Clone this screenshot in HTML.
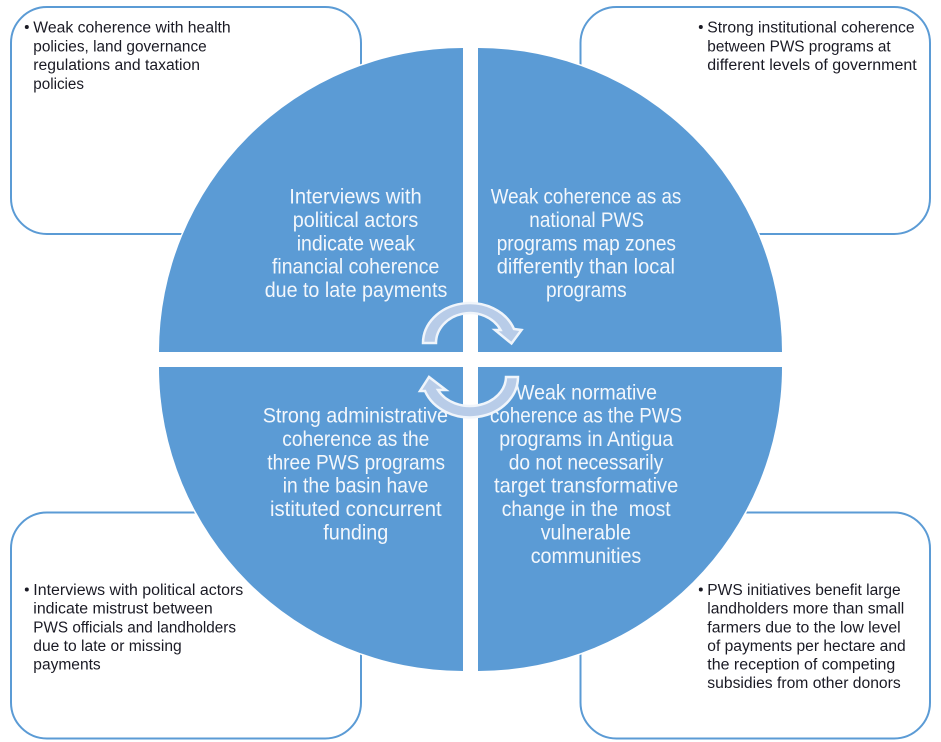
<!DOCTYPE html>
<html><head><meta charset="utf-8"><title>PWS coherence diagram</title>
<style>html,body{margin:0;padding:0;background:#fff}svg{display:block}
.b{font:15.5px "Liberation Sans",sans-serif;fill:#1a1a24}
.m{font:21px "Liberation Sans",sans-serif;fill:#f3f7fc}
</style></head><body>
<svg width="941" height="742" viewBox="0 0 941 742" xmlns="http://www.w3.org/2000/svg">
<g fill="#fff" stroke="#5b9bd5" stroke-width="2">
<rect x="11" y="7" width="350" height="227" rx="36"/>
<rect x="580.500" y="7" width="349.500" height="227" rx="36"/>
<rect x="11" y="512.500" width="350" height="226" rx="36"/>
<rect x="580.500" y="512.500" width="349.500" height="226" rx="36"/>
</g>
<g fill="#5b9bd5" stroke="#fff" stroke-width="3" paint-order="stroke">
<path d="M463 352V48A304 304 0 0 0 159 352Z"/>
<path d="M478 352V48A304 304 0 0 1 782 352Z"/>
<path d="M463 367V671A304 304 0 0 1 159 367Z"/>
<path d="M478 367V671A304 304 0 0 0 782 367Z"/>
</g>
<text class="m" x="289.300" y="203.500" textLength="132.400" lengthAdjust="spacingAndGlyphs">Interviews with</text>
<text class="m" x="292.700" y="227" textLength="125.600" lengthAdjust="spacingAndGlyphs">political actors</text>
<text class="m" x="296.700" y="250.300" textLength="118.300" lengthAdjust="spacingAndGlyphs">indicate weak</text>
<text class="m" x="272" y="273.700" textLength="167.300" lengthAdjust="spacingAndGlyphs">financial coherence</text>
<text class="m" x="264.700" y="297" textLength="182.600" lengthAdjust="spacingAndGlyphs">due to late payments</text>

<text class="m" x="490.700" y="203.500" textLength="190.600" lengthAdjust="spacingAndGlyphs">Weak coherence as as</text>
<text class="m" x="529.300" y="227" textLength="114.700" lengthAdjust="spacingAndGlyphs">national PWS</text>
<text class="m" x="496.700" y="250.300" textLength="179.300" lengthAdjust="spacingAndGlyphs">programs map zones</text>
<text class="m" x="496.700" y="273.700" textLength="178.300" lengthAdjust="spacingAndGlyphs">differently than local</text>
<text class="m" x="546" y="297" textLength="80.700" lengthAdjust="spacingAndGlyphs">programs</text>

<text class="m" x="262.700" y="422.700" textLength="185.300" lengthAdjust="spacingAndGlyphs">Strong administrative</text>
<text class="m" x="282.300" y="446" textLength="147" lengthAdjust="spacingAndGlyphs">coherence as the</text>
<text class="m" x="267.300" y="469.500" textLength="177.700" lengthAdjust="spacingAndGlyphs">three PWS programs</text>
<text class="m" x="282.700" y="492.700" textLength="145.600" lengthAdjust="spacingAndGlyphs">in the basin have</text>
<text class="m" x="270" y="516" textLength="171.700" lengthAdjust="spacingAndGlyphs">istituted concurrent</text>
<text class="m" x="323.300" y="539.500" textLength="65" lengthAdjust="spacingAndGlyphs">funding</text>

<text class="m" x="516" y="399.500" textLength="141" lengthAdjust="spacingAndGlyphs">Weak normative</text>
<text class="m" x="490" y="422.700" textLength="192" lengthAdjust="spacingAndGlyphs">coherence as the PWS</text>
<text class="m" x="499.300" y="446" textLength="174" lengthAdjust="spacingAndGlyphs">programs in Antigua</text>
<text class="m" x="508.700" y="469.500" textLength="154.600" lengthAdjust="spacingAndGlyphs">do not necessarily</text>
<text class="m" x="494" y="492.700" textLength="184.300" lengthAdjust="spacingAndGlyphs">target transformative</text>
<text class="m" x="501.700" y="516" textLength="169" lengthAdjust="spacingAndGlyphs" xml:space="preserve">change in the  most</text>
<text class="m" x="540.700" y="539.500" textLength="90.300" lengthAdjust="spacingAndGlyphs">vulnerable</text>
<text class="m" x="530.700" y="562.800" textLength="110.600" lengthAdjust="spacingAndGlyphs">communities</text>

<g fill="#b8cce8" stroke="#f0f5fb" stroke-width="2.500" stroke-linejoin="miter">
<path d="M423 343A47 40 0 0 1 514 329L521.500 330L511.500 343.500L495 330L500.600 330A34 30 0 0 0 436 343Z"/>
<path d="M518 377A48 40.500 0 0 1 425 391L420 391L429 377L446 390L438 390A36 29.500 0 0 0 506 377Z"/>
</g>
<g fill="#1a1a24">
<circle cx="26.800" cy="27" r="2"/><circle cx="700.800" cy="27" r="2"/>
<circle cx="26.800" cy="589.500" r="2"/><circle cx="700.800" cy="589.500" r="2"/>
</g>
<text class="b" x="33.300" y="32.300" textLength="197.400" lengthAdjust="spacingAndGlyphs">Weak coherence with health</text>
<text class="b" x="33.300" y="51.300" textLength="173.400" lengthAdjust="spacingAndGlyphs">policies, land governance</text>
<text class="b" x="33.300" y="70" textLength="166.700" lengthAdjust="spacingAndGlyphs">regulations and taxation</text>
<text class="b" x="33.300" y="89" textLength="50.700" lengthAdjust="spacingAndGlyphs">policies</text>

<text class="b" x="707.300" y="32.300" textLength="207.400" lengthAdjust="spacingAndGlyphs">Strong institutional coherence</text>
<text class="b" x="707.300" y="51.300" textLength="183.400" lengthAdjust="spacingAndGlyphs">between PWS programs at</text>
<text class="b" x="707.300" y="70" textLength="209.400" lengthAdjust="spacingAndGlyphs">different levels of government</text>

<text class="b" x="33.300" y="595" textLength="210" lengthAdjust="spacingAndGlyphs">Interviews with political actors</text>
<text class="b" x="33.300" y="613.500" textLength="179.400" lengthAdjust="spacingAndGlyphs">indicate mistrust between</text>
<text class="b" x="33.300" y="632.300" textLength="202.700" lengthAdjust="spacingAndGlyphs">PWS officials and landholders</text>
<text class="b" x="33.300" y="651" textLength="148.400" lengthAdjust="spacingAndGlyphs">due to late or missing</text>
<text class="b" x="33.300" y="669.500" textLength="67.400" lengthAdjust="spacingAndGlyphs">payments</text>

<text class="b" x="707.300" y="595" textLength="193.400" lengthAdjust="spacingAndGlyphs">PWS initiatives benefit large</text>
<text class="b" x="707.300" y="613.500" textLength="197" lengthAdjust="spacingAndGlyphs">landholders more than small</text>
<text class="b" x="707.300" y="632.300" textLength="193.400" lengthAdjust="spacingAndGlyphs">farmers due to the low level</text>
<text class="b" x="707.300" y="651" textLength="198.400" lengthAdjust="spacingAndGlyphs">of payments per hectare and</text>
<text class="b" x="707.300" y="669.500" textLength="188" lengthAdjust="spacingAndGlyphs">the reception of competing</text>
<text class="b" x="707.300" y="688" textLength="193.400" lengthAdjust="spacingAndGlyphs">subsidies from other donors</text>
</svg>
</body></html>
